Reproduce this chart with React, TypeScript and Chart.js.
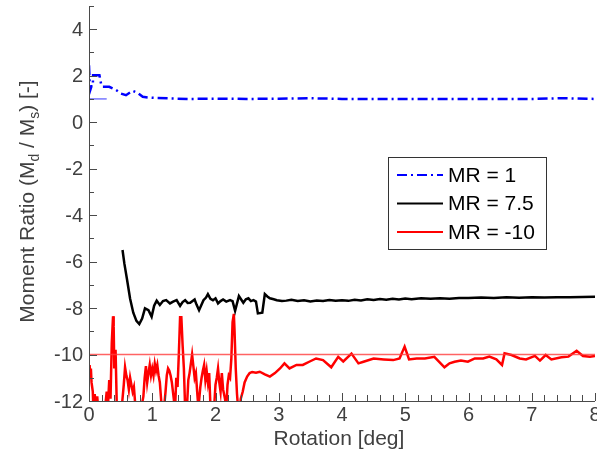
import React, { useEffect, useRef } from "react";
import { Chart, registerables } from "chart.js";

Chart.register(...registerables);

const xTickValues = [0, 1, 2, 3, 4, 5, 6, 7, 8];
const yTickValues = [-12, -10, -8, -6, -4, -2, 0, 2, 4];
const xMin = 0;
const xMax = 8;
const yMin = -12;
const yMax = 5;
const xMinorCount = 40;
const yMinorCount = 17;

const seriesLabels = ["MR = 1", "MR = 7.5", "MR = -10"];

const blueX = [0.0, 0.005, 0.01, 0.02, 0.04, 0.06, 0.065, 0.165, 0.19, 0.215, 0.32, 0.43, 0.505, 0.585, 0.69, 0.77, 0.85, 0.95, 1.06, 1.3, 1.6, 2.0, 2.5, 3.0, 3.5, 4.0, 5.0, 6.0, 7.0, 7.5, 8.0];
const blueY = [2.45, 2.09, 1.66, 1.38, 1.55, 1.55, 2.02, 2.02, 1.66, 1.52, 1.52, 1.38, 1.23, 1.16, 1.35, 1.26, 1.09, 1.06, 1.04, 1.02, 1.0, 1.01, 1.0, 1.01, 1.03, 1.0, 1.0, 1.0, 1.0, 1.03, 1.0];

const blackX = [0.53, 0.56, 0.6, 0.65, 0.7, 0.75, 0.795, 0.84, 0.885, 0.94, 0.99, 1.03, 1.07, 1.12, 1.17, 1.22, 1.28, 1.33, 1.385, 1.44, 1.48, 1.52, 1.56, 1.6, 1.67, 1.7, 1.74, 1.81, 1.85, 1.88, 1.92, 1.96, 2.0, 2.04, 2.08, 2.12, 2.17, 2.23, 2.27, 2.31, 2.37, 2.44, 2.48, 2.52, 2.56, 2.6, 2.64, 2.67, 2.74, 2.78, 2.82, 2.86, 2.92, 2.97, 3.05, 3.12, 3.2, 3.3, 3.4, 3.5, 3.6, 3.7, 3.8, 3.9, 4.0, 4.1, 4.2, 4.3, 4.4, 4.5, 4.6, 4.7, 4.8, 4.9, 5.0, 5.1, 5.25, 5.4, 5.55, 5.7, 5.85, 6.0, 6.2, 6.4, 6.6, 6.8, 7.0, 7.2, 7.4, 7.6, 7.8, 8.0];
const blackY = [-5.5, -6.1, -6.75, -7.6, -8.2, -8.55, -8.69, -8.45, -8.01, -8.09, -8.37, -7.9, -7.68, -7.87, -7.7, -7.66, -7.8, -7.72, -7.66, -7.91, -7.74, -7.66, -7.78, -7.77, -7.63, -7.85, -8.09, -7.66, -7.55, -7.4, -7.6, -7.66, -7.58, -7.8, -7.7, -7.63, -7.72, -7.66, -7.7, -8.12, -7.48, -7.77, -7.62, -7.58, -7.7, -7.66, -7.72, -8.23, -8.2, -7.4, -7.5, -7.58, -7.62, -7.66, -7.7, -7.68, -7.64, -7.7, -7.66, -7.72, -7.68, -7.7, -7.65, -7.69, -7.66, -7.69, -7.64, -7.67, -7.62, -7.65, -7.61, -7.64, -7.6, -7.63, -7.59, -7.62, -7.58, -7.6, -7.58, -7.6, -7.57, -7.57, -7.55, -7.57, -7.54, -7.56, -7.54, -7.55, -7.53, -7.53, -7.52, -7.51];

const redX = [0.0, 0.01, 0.02, 0.03, 0.04, 0.06, 0.07, 0.09, 0.11, 0.13, 0.15, 0.2, 0.25, 0.28, 0.3, 0.32, 0.34, 0.36, 0.38, 0.39, 0.4, 0.42, 0.44, 0.48, 0.52, 0.55, 0.57, 0.59, 0.61, 0.63, 0.65, 0.67, 0.69, 0.71, 0.73, 0.76, 0.82, 0.86, 0.88, 0.9, 0.92, 0.94, 0.96, 0.98, 1.0, 1.02, 1.04, 1.06, 1.08, 1.1, 1.12, 1.15, 1.18, 1.21, 1.23, 1.25, 1.27, 1.29, 1.31, 1.34, 1.36, 1.38, 1.4, 1.42, 1.44, 1.46, 1.48, 1.5, 1.52, 1.55, 1.57, 1.59, 1.61, 1.63, 1.65, 1.67, 1.69, 1.71, 1.73, 1.76, 1.78, 1.8, 1.82, 1.84, 1.86, 1.88, 1.9, 1.92, 1.95, 1.98, 2.0, 2.02, 2.04, 2.06, 2.08, 2.1, 2.12, 2.15, 2.17, 2.19, 2.21, 2.23, 2.25, 2.27, 2.29, 2.3, 2.32, 2.34, 2.36, 2.38, 2.4, 2.43, 2.46, 2.5, 2.54, 2.58, 2.64, 2.7, 2.78, 2.86, 2.94, 3.02, 3.09, 3.17, 3.28, 3.38, 3.49, 3.59, 3.7, 3.83, 3.94, 4.02, 4.15, 4.26, 4.34, 4.5, 4.66, 4.81, 4.91, 4.99, 5.06, 5.18, 5.31, 5.46, 5.62, 5.7, 5.78, 5.88, 5.99, 6.1, 6.23, 6.33, 6.44, 6.53, 6.57, 6.68, 6.81, 6.91, 7.05, 7.13, 7.22, 7.31, 7.47, 7.58, 7.71, 7.81, 7.92, 8.0];
const redY = [-10.5, -10.45, -11.0, -10.6, -11.2, -11.6, -12.4, -11.7, -12.3, -11.8, -12.5, -12.6, -12.4, -11.6, -12.2, -11.1, -11.9, -9.5, -8.35, -8.8, -10.6, -9.8, -12.3, -12.5, -12.2, -11.3, -10.55, -10.9, -11.1, -11.5, -11.0, -11.3, -11.6, -11.4, -12.1, -12.5, -12.4, -11.8, -11.0, -10.5, -11.2, -10.8, -10.45, -10.9, -10.6, -10.9, -10.4, -10.7, -10.45, -10.9, -11.2, -12.3, -12.5, -11.6, -10.9, -10.6, -10.7, -10.9, -11.2, -11.9, -12.4, -11.0, -11.4, -10.0, -8.4, -8.4, -9.6, -10.6, -12.3, -12.2, -11.1, -10.8, -10.4, -10.0, -10.5, -11.0, -10.8, -11.6, -12.3, -11.4, -11.0, -10.7, -10.45, -11.1, -10.7, -11.2, -10.8, -12.2, -12.5, -12.2, -11.3, -11.0, -10.6, -11.2, -11.6, -10.8, -11.5, -11.9, -12.3, -11.3, -10.9, -11.0, -10.2, -8.6, -8.25, -8.9, -10.6, -11.7, -12.4, -12.5, -11.9, -11.6, -11.2, -10.95, -10.8, -10.75, -10.78, -10.74, -10.85, -10.95, -10.8, -10.6, -10.38, -10.6, -10.45, -10.45, -10.3, -10.17, -10.24, -10.55, -10.1, -10.3, -9.96, -10.38, -10.31, -10.17, -10.21, -10.24, -10.17, -9.66, -10.21, -10.17, -10.17, -10.1, -10.55, -10.38, -10.31, -10.26, -10.31, -10.17, -10.17, -10.09, -10.21, -10.45, -9.95, -10.02, -10.17, -10.21, -10.06, -10.26, -10.02, -10.21, -10.12, -10.09, -9.84, -10.06, -10.09, -10.06];

const refBlueX = [0, 0.28];
const refBlueY = [1, 1];
const refRedX = [0, 8];
const refRedY = [-10, -10];

const FONT = "'Liberation Sans', Arial, Helvetica, sans-serif";
const TEXT = "#404040";
const AXIS = "#4a4a4a";
const DASHDOT = [10, 4, 2, 4];

const pts = (xs: number[], ys: number[]) => xs.map((x, i) => ({ x, y: ys[i] }));

const decorPlugin = {
  id: "decor",
  afterDraw(chart: any) {
    const ctx = chart.ctx as CanvasRenderingContext2D;
    const { left, right, top, bottom } = chart.chartArea;
    const xs = chart.scales.x;
    const ys = chart.scales.y;
    ctx.save();
    ctx.strokeStyle = AXIS;
    ctx.lineWidth = 1;
    ctx.beginPath();
    ctx.moveTo(left + 0.5, top);
    ctx.lineTo(left + 0.5, bottom + 0.5);
    ctx.lineTo(right, bottom + 0.5);
    ctx.stroke();
    ctx.beginPath();
    for (let i = 0; i <= xMinorCount; i++) {
      const v = xMin + ((xMax - xMin) * i) / xMinorCount;
      const px = Math.round(xs.getPixelForValue(v)) + 0.5;
      const len = i % 5 === 0 ? 8 : 6;
      ctx.moveTo(px, bottom);
      ctx.lineTo(px, bottom - len);
    }
    for (let i = 0; i <= yMinorCount; i++) {
      const v = yMin + i;
      const py = Math.round(ys.getPixelForValue(v)) + 0.5;
      const len = v % 2 === 0 ? 8 : 5;
      ctx.moveTo(left, py);
      ctx.lineTo(left + len, py);
    }
    ctx.stroke();

    ctx.fillStyle = TEXT;
    ctx.font = `20px ${FONT}`;
    ctx.textAlign = "right";
    ctx.textBaseline = "middle";
    for (const v of yTickValues) {
      ctx.fillText(String(v), left - 6, ys.getPixelForValue(v) + 1);
    }
    ctx.textAlign = "center";
    for (const v of xTickValues) {
      ctx.fillText(String(v), xs.getPixelForValue(v), bottom + 14);
    }

    ctx.font = `21px ${FONT}`;
    ctx.textAlign = "center";
    ctx.textBaseline = "alphabetic";
    ctx.fillText("Rotation [deg]", (left + right) / 2 - 3, 445);

    const parts: [string, boolean][] = [
      ["Moment Ratio (M", false],
      ["d", true],
      [" / M", false],
      ["s", true],
      [") [-]", false],
    ];
    const big = `21px ${FONT}`;
    const small = `14px ${FONT}`;
    let total = 0;
    for (const [t, sub] of parts) {
      ctx.font = sub ? small : big;
      total += ctx.measureText(t).width;
    }
    ctx.translate(34, (top + bottom) / 2 - 2);
    ctx.rotate(-Math.PI / 2);
    ctx.textAlign = "left";
    let cx = -total / 2;
    for (const [t, sub] of parts) {
      ctx.font = sub ? small : big;
      ctx.fillText(t, cx, sub ? 5 : 0);
      cx += ctx.measureText(t).width;
    }
    ctx.restore();

    ctx.save();
    const lx = left + 299;
    const ly = top + 151;
    const lw = 158;
    const lh = 92;
    ctx.fillStyle = "#ffffff";
    ctx.fillRect(lx, ly, lw, lh);
    ctx.strokeStyle = "#333333";
    ctx.lineWidth = 1;
    ctx.strokeRect(lx + 0.5, ly + 0.5, lw, lh);
    const datasets = chart.data.datasets.filter((d: any) => d.showInLegend);
    datasets.forEach((d: any, i: number) => {
      const ry = ly + 18 + i * 28.5;
      ctx.strokeStyle = d.borderColor;
      ctx.lineWidth = 2;
      ctx.setLineDash(d.borderDash || []);
      ctx.beginPath();
      ctx.moveTo(lx + 9, ry);
      ctx.lineTo(lx + 55, ry);
      ctx.stroke();
      ctx.setLineDash([]);
      ctx.fillStyle = "#000000";
      ctx.font = `21px ${FONT}`;
      ctx.textAlign = "left";
      ctx.textBaseline = "middle";
      ctx.fillText(d.label, lx + 60, ry + 1);
    });
    ctx.restore();
  },
};

export default function App() {
  const ref = useRef<HTMLCanvasElement | null>(null);
  useEffect(() => {
    if (!ref.current) return;
    const chart = new Chart(ref.current, {
      type: "line",
      data: {
        datasets: [
          { label: "refBlue", data: pts(refBlueX, refBlueY), borderColor: "rgba(0,0,255,0.8)", borderWidth: 1, pointRadius: 0, showInLegend: false } as any,
          { label: "refRed", data: pts(refRedX, refRedY), borderColor: "rgba(255,60,60,0.8)", borderWidth: 1.5, pointRadius: 0, showInLegend: false } as any,
          { label: seriesLabels[0], data: pts(blueX, blueY), borderColor: "#0000ff", borderWidth: 2.5, borderDash: DASHDOT, pointRadius: 0, showInLegend: true } as any,
          { label: seriesLabels[1], data: pts(blackX, blackY), borderColor: "#000000", borderWidth: 2.5, pointRadius: 0, showInLegend: true } as any,
          { label: seriesLabels[2], data: pts(redX, redY), borderColor: "#ff0000", borderWidth: 2.5, pointRadius: 0, showInLegend: true } as any,
        ],
      },
      options: {
        animation: false,
        responsive: false,
        maintainAspectRatio: false,
        devicePixelRatio: 1,
        layout: { padding: { top: 6, right: 2, left: 0, bottom: 0 } },
        datasets: { line: { clip: 0, tension: 0 } as any },
        plugins: { legend: { display: false }, tooltip: { enabled: false }, title: { display: false } },
        scales: {
          x: {
            type: "linear",
            min: xMin,
            max: xMax,
            grid: { display: false, drawTicks: false },
            border: { display: false },
            afterFit: (s: any) => { s.height = 56; },
            ticks: { display: false },
          },
          y: {
            type: "linear",
            min: yMin,
            max: yMax,
            grid: { display: false, drawTicks: false },
            border: { display: false },
            afterFit: (s: any) => { s.width = 89; },
            ticks: { display: false },
          },
        },
      },
      plugins: [decorPlugin],
    });
    return () => chart.destroy();
  }, []);
  return (
    <div style={{ position: "absolute", left: 0, top: 0, width: 597, height: 457, background: "#fff" }}>
      <canvas ref={ref} width={597} height={457} />
    </div>
  );
}
